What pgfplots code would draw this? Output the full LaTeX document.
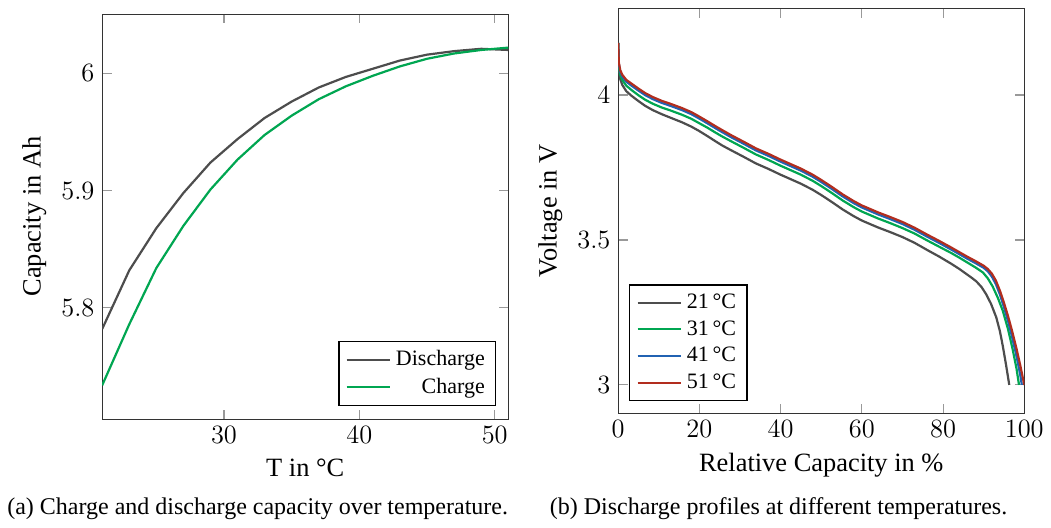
\documentclass[border=0pt]{standalone}
\usepackage{pgfplots}
\pgfplotsset{compat=1.18}
\usepackage{fontspec}
\setmainfont{Liberation Serif}
\definecolor{cgray}{RGB}{77,77,77}
\definecolor{cgreen}{RGB}{0,166,81}
\definecolor{cblue}{RGB}{33,98,178}
\definecolor{cred}{RGB}{178,45,30}
\pgfplotsset{
  myaxis/.style={
    scale only axis,
    width=184.5pt,
    axis line style={black!80},
    major tick style={black!40, line width=0.5pt},
    tick label style={font=\fontsize{12}{14}\selectfont},
    label style={font=\fontsize{12}{14}\selectfont},
    legend style={font=\fontsize{10}{12}\selectfont, draw=black, line width=0.6pt},
    legend image code/.code={\draw[#1] (0cm,0cm) -- (0.7cm,0cm);},
    every axis plot/.append style={line width=1pt},
  }
}
\begin{document}
\begin{tikzpicture}
\path (0,0) rectangle (472.95pt,237.15pt);
% ---------------- (a)
\begin{axis}[myaxis,
  at={(44.1pt,46.8pt)}, anchor=south west, height=184pt,
  xmin=21, xmax=51, ymin=5.7053, ymax=6.0507,
  xtick={30,40,50}, ytick={5.8,5.9,6},
  xlabel={T in °C}, ylabel={Capacity in Ah},
  legend cell align=right,
  legend style={at={(0.971,0.032)}, anchor=south east},
]
\addplot[cgray] coordinates {
(21,5.782) (23,5.832) (25,5.868) (27,5.898) (29,5.924) (31,5.944) (33,5.962)
(35,5.976) (37,5.988) (39,5.997) (41,6.004) (43,6.011) (45,6.016) (47,6.019)
(49,6.021) (51,6.020)};
\addlegendentry{Discharge}
\addplot[cgreen] coordinates {
(21,5.734) (23,5.786) (25,5.834) (27,5.870) (29,5.901) (31,5.9265) (33,5.9475)
(35,5.964) (37,5.978) (39,5.989) (41,5.998) (43,6.006) (45,6.0125) (47,6.017)
(49,6.020) (51,6.022)};
\addlegendentry{Charge}
\end{axis}
% ---------------- (b)
\begin{axis}[myaxis,
  at={(278.55pt,49.5pt)}, anchor=south west, height=183.6pt,
  xmin=0, xmax=100, ymin=2.903, ymax=4.297,
  xtick={0,20,40,60,80,100}, ytick={3,3.5,4},
  xlabel={Relative Capacity in \%}, ylabel={Voltage in V},
  legend cell align=left,
  legend style={at={(0.027,0.029)}, anchor=south west},
]
\addplot[cgray] coordinates {
(0,4.18) (0.15,4.09) (0.5,4.055) (1,4.035) (2,4.013) (3.3,3.997) (5,3.979)
(6.6,3.963) (8.5,3.948) (10.7,3.934) (13,3.921) (15.7,3.906) (18,3.891)
(19.8,3.877) (22,3.858) (24,3.840) (25.6,3.826) (28,3.808) (31,3.786)
(33.9,3.764) (37,3.745) (40,3.725) (42.1,3.712) (45,3.694) (47.9,3.673)
(50,3.655) (52.5,3.632) (55.3,3.605) (58,3.582) (60,3.567) (62,3.555)
(64,3.543) (67,3.527) (70,3.51) (73,3.49) (76,3.466) (79,3.443) (82,3.418)
(84,3.400) (85.7,3.383) (87,3.370) (88.2,3.357) (89.5,3.337) (90.6,3.313)
(91.8,3.28) (93.1,3.233) (94,3.185) (94.7,3.135) (95.5,3.07) (96.3,3.0)};
\addlegendentry{21\,°C}
\addplot[cgreen] coordinates {
(0,4.18) (0.15,4.10) (0.5,4.07) (1,4.052) (2,4.032) (3.3,4.017) (5,3.999)
(6.6,3.984) (8.5,3.970) (10.7,3.957) (13,3.946) (15.7,3.932) (18,3.918)
(19.8,3.904) (22,3.887) (24,3.870) (25.6,3.857) (28,3.839) (31,3.817)
(33.9,3.795) (37,3.776) (40,3.756) (42.1,3.743) (45,3.725) (47.9,3.704)
(50,3.686) (52.5,3.663) (55.3,3.636) (58,3.613) (60,3.598) (62,3.586)
(64,3.574) (67,3.558) (70,3.541) (73,3.522) (76,3.499) (79,3.477) (82,3.455)
(84,3.439) (86,3.422) (88,3.405) (89.8,3.388) (91,3.368) (92.2,3.340)
(93.5,3.300) (94.7,3.256) (96,3.192) (97.1,3.125) (98.1,3.055) (98.7,3.0)};
\addlegendentry{31\,°C}
\addplot[cblue] coordinates {
(0,4.18) (0.15,4.108) (0.5,4.08) (1,4.064) (2,4.046) (3.3,4.032) (5,4.015)
(6.6,4.000) (8.5,3.986) (10.7,3.973) (13,3.962) (15.7,3.948) (18,3.934)
(19.8,3.920) (22,3.902) (24,3.885) (25.6,3.872) (28,3.853) (31,3.831)
(33.9,3.809) (37,3.790) (40,3.770) (42.1,3.757) (45,3.739) (47.9,3.718)
(50,3.700) (52.5,3.677) (55.3,3.650) (58,3.627) (60,3.612) (62,3.600)
(64,3.588) (67,3.572) (70,3.555) (73,3.535) (76,3.512) (79,3.490) (82,3.467)
(84,3.451) (86,3.435) (88,3.420) (90,3.404) (91,3.392) (92,3.374) (93,3.348)
(94,3.312) (95,3.268) (96,3.220) (97,3.165) (98,3.105) (99,3.035) (99.4,3.0)};
\addlegendentry{41\,°C}
\addplot[cred] coordinates {
(0,4.18) (0.15,4.113) (0.5,4.086) (1,4.07) (2,4.052) (3.3,4.039) (5,4.022)
(6.6,4.007) (8.5,3.993) (10.7,3.980) (13,3.969) (15.7,3.955) (18,3.941)
(19.8,3.927) (22,3.909) (24,3.892) (25.6,3.879) (28,3.860) (31,3.838)
(33.9,3.816) (37,3.797) (40,3.777) (42.1,3.764) (45,3.746) (47.9,3.725)
(50,3.707) (52.5,3.684) (55.3,3.657) (58,3.634) (60,3.619) (62,3.607)
(64,3.595) (67,3.579) (70,3.562) (73,3.542) (76,3.519) (79,3.497) (82,3.474)
(84,3.458) (86,3.442) (88,3.427) (90,3.411) (91,3.400) (92,3.384) (93,3.360)
(94,3.325) (95,3.283) (96,3.237) (97,3.186) (98,3.130) (99,3.068) (100,3.0)};
\addlegendentry{51\,°C}
\end{axis}
\node[anchor=base, font=\fontsize{10.9}{12}\selectfont] at (114.75pt,3.2pt)
  {(a) Charge and discharge capacity over temperature.};
\node[anchor=base, font=\fontsize{10.9}{12}\selectfont] at (351.4pt,3.2pt)
  {(b) Discharge profiles at different temperatures.};
\end{tikzpicture}
\end{document}
